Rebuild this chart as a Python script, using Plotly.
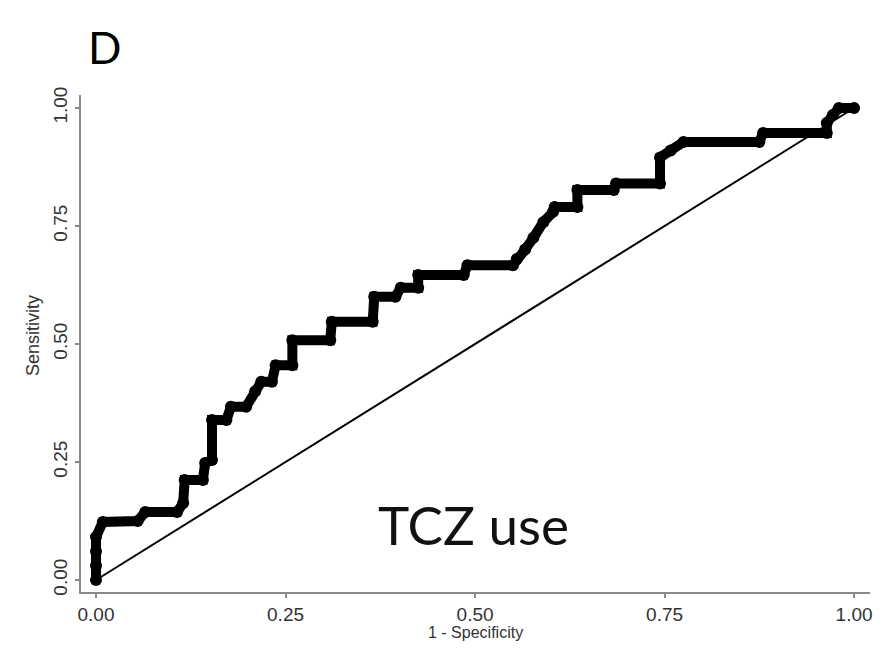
import plotly.graph_objects as go

# ROC curve vertices: 1 - specificity (x) and sensitivity (y)
fpr = [0.000, 0.000, 0.000, 0.000, 0.009, 0.055, 0.065, 0.107, 0.115, 0.117,
       0.141, 0.144, 0.153, 0.153, 0.172, 0.178, 0.198, 0.210, 0.218, 0.232,
       0.237, 0.259, 0.259, 0.309, 0.311, 0.365, 0.367, 0.395, 0.402, 0.425,
       0.425, 0.485, 0.490, 0.550, 0.555, 0.566, 0.577, 0.590, 0.603, 0.605,
       0.635, 0.635, 0.683, 0.686, 0.744, 0.744, 0.758, 0.775, 0.875, 0.880,
       0.964, 0.964, 0.972, 0.980, 1.000]
tpr = [0.000, 0.030, 0.061, 0.091, 0.123, 0.125, 0.144, 0.144, 0.163, 0.212,
       0.212, 0.248, 0.254, 0.339, 0.339, 0.367, 0.367, 0.400, 0.420, 0.420,
       0.455, 0.455, 0.508, 0.508, 0.547, 0.547, 0.600, 0.600, 0.619, 0.619,
       0.646, 0.646, 0.667, 0.667, 0.680, 0.700, 0.725, 0.758, 0.780, 0.790,
       0.790, 0.826, 0.826, 0.840, 0.840, 0.895, 0.910, 0.928, 0.928, 0.947,
       0.947, 0.968, 0.985, 1.000, 1.000]

# chance (reference) line
ref_x = [0.0, 1.0]
ref_y = [0.0, 1.0]

tick_vals = [0.0, 0.25, 0.5, 0.75, 1.0]
tick_text = ["0.00", "0.25", "0.50", "0.75", "1.00"]

W, H = 888, 663
L, R, T, B = 81, 18, 95, 71
PW, PH = W - L - R, H - T - B


def px(x):
    return (x - L) / PW


def py(y):
    return (H - B - y) / PH


fig = go.Figure()

fig.add_trace(go.Scatter(
    x=ref_x, y=ref_y, mode="lines",
    line=dict(color="black", width=2),
    hoverinfo="skip", showlegend=False,
))

fig.add_trace(go.Scatter(
    x=fpr, y=tpr, mode="lines+markers",
    line=dict(color="black", width=10),
    marker=dict(color="black", size=12, symbol="circle"),
    showlegend=False,
))

axis_common = dict(
    showline=True, linecolor="#8a8a8a", linewidth=2,
    ticks="outside", ticklen=4, tickwidth=1.5, tickcolor="#8a8a8a",
    showgrid=False, zeroline=False,
    tickvals=tick_vals, ticktext=tick_text,
    tickfont=dict(family="Liberation Sans, Arial, sans-serif", size=19, color="#333"),
    mirror=False,
)

fig.update_xaxes(range=[-0.0198, 1.021], **axis_common)
fig.update_yaxes(range=[-0.0254, 1.0275], tickangle=-90, **axis_common)

annotations = [
    dict(text="D", x=px(104), y=py(47), xref="paper", yref="paper",
         showarrow=False, xanchor="center", yanchor="middle",
         font=dict(family="Lato, sans-serif", size=44, color="black")),
    dict(text="TCZ use", x=px(473), y=py(524), xref="paper", yref="paper",
         showarrow=False, xanchor="center", yanchor="middle",
         font=dict(family="Lato, sans-serif", size=53, color="#111")),
    dict(text="1 - Specificity", x=px(475), y=py(632), xref="paper", yref="paper",
         showarrow=False, xanchor="center", yanchor="middle",
         font=dict(family="Liberation Sans, Arial, sans-serif", size=16, color="#333")),
    dict(text="Sensitivity", x=px(33), y=py(336), xref="paper", yref="paper",
         showarrow=False, xanchor="center", yanchor="middle", textangle=-90,
         font=dict(family="Liberation Sans, Arial, sans-serif", size=18, color="#333")),
]

fig.update_layout(
    width=W, height=H, autosize=False,
    margin=dict(l=L, r=R, t=T, b=B),
    paper_bgcolor="white", plot_bgcolor="white",
    annotations=annotations,
)

fig.write_html("out.html")
